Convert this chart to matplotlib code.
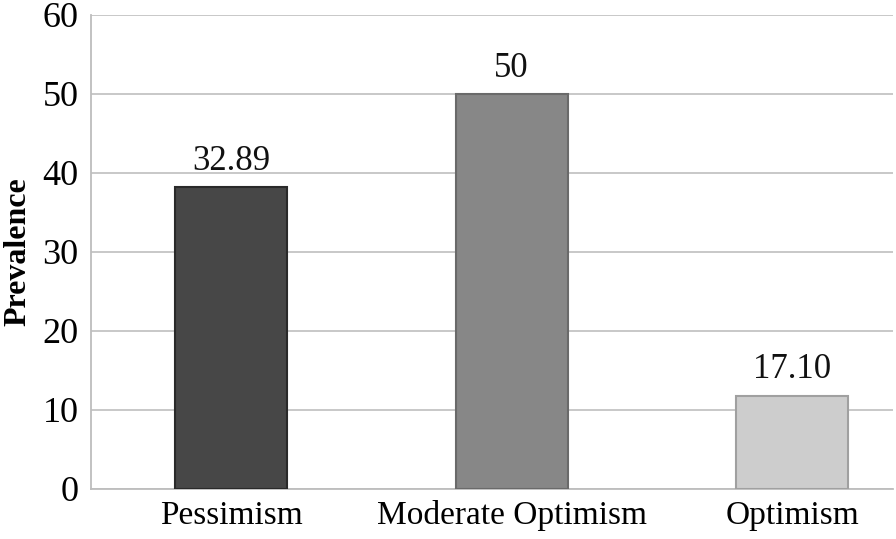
import matplotlib
matplotlib.use("Agg")
import matplotlib.pyplot as plt

categories = ["Pessimism", "Moderate Optimism", "Optimism"]
bar_heights = [38.2, 50.0, 11.8]
value_labels = ["32.89", "50", "17.10"]
bar_colors = ["#474747", "#878787", "#cdcdcd"]
edge_colors = ["#2a2a2a", "#6a6a6a", "#a0a0a0"]
yticks = [0, 10, 20, 30, 40, 50, 60]

plt.rcParams['font.family'] = ['Liberation Serif', 'DejaVu Serif']

fig = plt.figure(figsize=(8.96, 5.39), dpi=100)
ax = fig.add_axes([0.1016, 0.0928, 0.8951, 0.8794])

x = list(range(len(categories)))
bars = ax.bar(x, bar_heights, width=0.4, color=bar_colors, edgecolor=edge_colors,
              linewidth=1.5, zorder=3)
for xi, h, lab in zip(x, bar_heights, value_labels):
    ax.text(xi, h + 1.2, lab, ha='center', va='bottom', fontsize=25, color='#111111')

ax.set_xlim(-0.5, 2.36)
ax.set_ylim(0, 60)
ax.set_yticks(yticks)
ax.set_xticks(x)
ax.set_xticklabels(categories, fontsize=24)
ax.tick_params(axis='y', labelsize=26, length=0, pad=9)
ax.tick_params(axis='x', length=0, pad=8)
ax.grid(axis='y', color='#c4c4c4', linewidth=1.3, zorder=0)
for s in ['top', 'right']:
    ax.spines[s].set_visible(False)
ax.spines['left'].set_color('#bdbdbd')
ax.spines['left'].set_linewidth(1.3)
ax.spines['bottom'].set_color('#bdbdbd')
ax.spines['bottom'].set_linewidth(1.3)
ax.set_ylabel("Prevalence", fontsize=23, fontweight='bold')
ax.yaxis.set_label_coords(-0.073, 0.5)

fig.savefig("out.png", dpi=100)
